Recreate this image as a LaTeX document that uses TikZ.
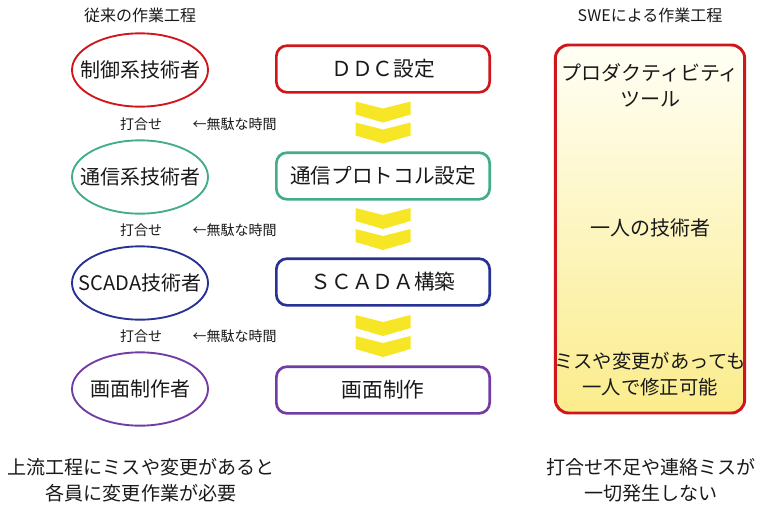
\documentclass[tikz,border=0pt]{standalone}
\usepackage{fontspec}
\setmainfont{Noto Sans CJK JP}
\usetikzlibrary{shapes.geometric,calc}

\definecolor{rosso}{RGB}{208,22,28}
\definecolor{verde}{RGB}{66,172,140}
\definecolor{blu}{RGB}{40,50,148}
\definecolor{viola}{RGB}{114,60,164}
\definecolor{giallo}{RGB}{246,230,38}
\definecolor{testo}{RGB}{25,25,25}
\definecolor{crema}{RGB}{255,255,245}
\definecolor{paglia}{RGB}{251,236,140}

% freccia doppia gialla tra due fasi
\newcommand{\freccia}[2]{%
  \coordinate (m) at ($(#1.south)!0.5!(#2.north)$);
  \foreach \d in {-21,0} {
    \fill[giallo, shift={(m)}, yshift=-\d*0.75pt]
      (-27.5,0) -- (0,7) -- (27.5,0) -- (27.5,13) -- (0,21) -- (-27.5,13) -- cycle;
  }%
}

\begin{document}
\begin{tikzpicture}[x=0.75pt, y=-0.75pt,
    every node/.style={text=testo},
    tecnico/.style={ellipse, draw, line width=1.4pt, minimum width=102pt,
                    minimum height=55pt, inner sep=0pt, font=\fontsize{15}{18}\selectfont},
    fase/.style={rectangle, rounded corners=8pt, draw, line width=2pt,
                 minimum width=160pt, minimum height=35pt, font=\fontsize{15.5}{18}\selectfont},
    nota/.style={font=\fontsize{10.5}{12}\selectfont},
    titolo/.style={font=\fontsize{12}{14}\selectfont},
    commento/.style={align=center, font=\fontsize{14.3}{19.5}\selectfont}]
    \useasboundingbox (0,0) rectangle (760,508);

    % Titoli
    \node[titolo] (t1) at (140,15) {従来の作業工程};
    \node[titolo] (t2) at (650,15) {SWEによる作業工程};

    % Tecnici (colonna sinistra)
    \node[tecnico, draw=rosso] (e1) at (140,70)  {\makebox[0pt]{制御系技術者}};
    \node[tecnico, draw=verde] (e2) at (140,177) {\makebox[0pt]{通信系技術者}};
    \node[tecnico, draw=blu]   (e3) at (140,283) {\makebox[0pt]{SCADA技術者}};
    \node[tecnico, draw=viola] (e4) at (140,389) {\makebox[0pt]{画面制作者}};

    % Riunioni tra i tecnici
    \foreach \y [count=\i] in {124,230,336} {
        \node[nota] (r\i) at (141,\y) {打合せ};
        \node[nota, anchor=west] (w\i) at (188,\y) {←無駄な時間};
    }

    % Fasi di lavoro (colonna centrale)
    \node[fase, draw=rosso] (b1) at (383,69)  {ＤＤＣ設定};
    \node[fase, draw=verde] (b2) at (383,176) {通信プロトコル設定};
    \node[fase, draw=blu]   (b3) at (383,282) {ＳＣＡＤＡ構築};
    \node[fase, draw=viola] (b4) at (383,390) {画面制作};

    \freccia{b1}{b2}
    \freccia{b2}{b3}
    \freccia{b3}{b4}

    % Riquadro SWE
    \node[rectangle, rounded corners=10pt, draw=rosso, line width=2.2pt,
          top color=crema, bottom color=paglia,
          minimum width=142pt, minimum height=276pt] (swe) at (650,229) {};
    \node[align=center, font=\fontsize{15}{19.5}\selectfont] (s1) at (650,85)
        {プロダクティビティ\\ツール};
    \node[font=\fontsize{15}{18}\selectfont] (s2) at (650,228) {一人の技術者};
    \node[align=center, font=\fontsize{14.5}{19.5}\selectfont] (s3) at (650,374)
        {ミスや変更があっても\\一人で修正可能};

    % Commenti in basso
    \node[commento] (c1) at (141,480) {上流工程にミスや変更があると\\各員に変更作業が必要};
    \node[commento] (c2) at (651,480) {打合せ不足や連絡ミスが\\一切発生しない};
\end{tikzpicture}
\end{document}
